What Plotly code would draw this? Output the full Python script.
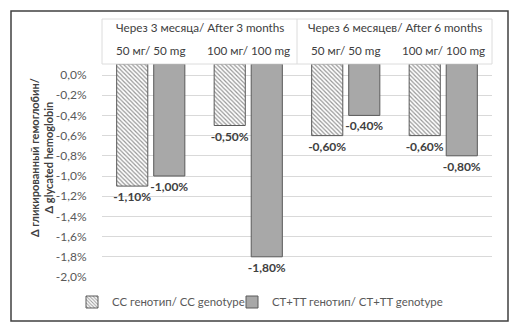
import numpy as np
import plotly.graph_objects as go

# --- data -------------------------------------------------------------
periods = ["Через 3 месяца/ After 3 months", "Через 6 месяцев/ After 6 months"]
doses = ["50 мг/ 50 mg", "100 мг/ 100 mg", "50 мг/ 50 mg", "100 мг/ 100 mg"]
series_names = ["CC генотип/ CC genotype", "CT+TT генотип/ CT+TT genotype"]
cc_values = [-1.10, -0.50, -0.60, -0.60]
ct_tt_values = [-1.00, -1.80, -0.40, -0.80]
y_tickvals = [0.0, -0.2, -0.4, -0.6, -0.8, -1.0, -1.2, -1.4, -1.6, -1.8, -2.0]
y_ticktext = ["0,0%", "-0,2%", "-0,4%", "-0,6%", "-0,8%", "-1,0%",
              "-1,2%", "-1,4%", "-1,6%", "-1,8%", "-2,0%"]
y_title = "Δ гликированный гемоглобин/<br>Δ glycated hemoglobin"

# --- geometry ---------------------------------------------------------
W, H = 519, 333
L, R, T, B = 102, 27, 64, 56
PW, PH = W - L - R, H - T - B
Y_MIN = -2.0
Y_TOP = 0.109  # value where the category axis crosses (bars hang from here)

FONT = "Lato"
TXT = "#404040"


def px_x(px):
    return (px - L) / PW


def px_y(py):
    return (H - B - py) / PH


def pct(v):
    return f"{v:.2f}%".replace(".", ",")


x = np.arange(len(doses))
label_font = dict(family=FONT, size=12, color=TXT, weight="bold")

fig = go.Figure()
fig.add_trace(go.Bar(
    x=x, y=[v - Y_TOP for v in cc_values], base=Y_TOP,
    name=series_names[0], legend="legend",
    text=[pct(v) for v in cc_values], textposition="outside",
    textfont=label_font, constraintext="none",
    marker=dict(color="white",
                line=dict(color="#5a5a5a", width=1),
                pattern=dict(shape="\\", fgcolor="#2e2e2e", bgcolor="white",
                             size=3, solidity=0.4)),
    cliponaxis=False,
))
fig.add_trace(go.Bar(
    x=x, y=[v - Y_TOP for v in ct_tt_values], base=Y_TOP,
    name=series_names[1], legend="legend2",
    text=[pct(v) for v in ct_tt_values], textposition="outside",
    textfont=label_font, constraintext="none",
    marker=dict(color="#a8a8a8", line=dict(color="#5a5a5a", width=1)),
    cliponaxis=False,
))

shapes = [
    # outer frame
    dict(type="rect", xref="paper", yref="paper",
         x0=px_x(11), x1=px_x(508), y0=px_y(321), y1=px_y(11),
         line=dict(color="#404040", width=1.5), fillcolor="rgba(0,0,0,0)"),
    # header table
    dict(type="rect", xref="paper", yref="paper",
         x0=0, x1=1, y0=1, y1=px_y(19),
         line=dict(color="#dcdcdc", width=1), fillcolor="white"),
    dict(type="line", xref="paper", yref="paper",
         x0=0.5, x1=0.5, y0=1, y1=px_y(19),
         line=dict(color="#dcdcdc", width=1)),
]

annotations = []
for i, p in enumerate(periods):
    annotations.append(dict(
        x=2 * i + 0.5, xref="x", xanchor="center",
        y=px_y(27), yref="paper", yanchor="middle",
        text=p, showarrow=False,
        font=dict(family=FONT, size=11.7, color=TXT)))
for i, d in enumerate(doses):
    annotations.append(dict(
        x=i, xref="x", xanchor="center",
        y=px_y(50), yref="paper", yanchor="middle",
        text=d, showarrow=False,
        font=dict(family=FONT, size=11.7, color=TXT)))
annotations.append(dict(
    x=px_x(41), xref="paper", xanchor="center",
    y=px_y(158), yref="paper", yanchor="middle",
    text=y_title, textangle=-90, showarrow=False,
    font=dict(family=FONT, size=11, color=TXT, weight="bold")))

legend_style = dict(orientation="h", xanchor="left", yanchor="middle",
                    y=px_y(302), bgcolor="rgba(0,0,0,0)",
                    font=dict(family=FONT, size=11.4, color="#595959"))

fig.update_layout(
    width=W, height=H,
    margin=dict(l=L, r=R, t=T, b=B, pad=0),
    paper_bgcolor="white", plot_bgcolor="white",
    barmode="group", bargap=0.24, bargroupgap=0.16,
    showlegend=True,
    legend=dict(x=px_x(72), **legend_style),
    legend2=dict(x=px_x(232), **legend_style),
    shapes=shapes,
    annotations=annotations,
    font=dict(family=FONT),
)
fig.update_xaxes(range=[-0.5, len(doses) - 0.5], showticklabels=False,
                 showgrid=False, zeroline=False, showline=False, ticks="")
fig.update_yaxes(range=[Y_MIN, Y_TOP], tickvals=y_tickvals, ticktext=y_ticktext,
                 showgrid=True, gridcolor="#d9d9d9", gridwidth=1,
                 zeroline=False, showline=False,
                 ticks="outside", ticklen=12, tickcolor="rgba(0,0,0,0)",
                 tickfont=dict(family=FONT, size=12, color="#595959"))

fig.write_html("out.html")
